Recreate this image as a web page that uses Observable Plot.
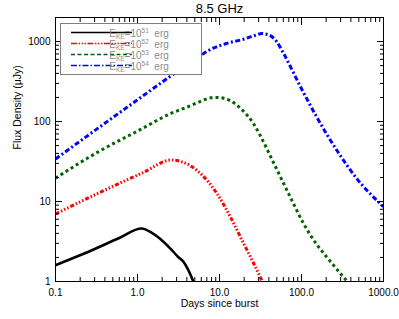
<!DOCTYPE html>
<html><head><meta charset="utf-8">
<script src="https://cdn.jsdelivr.net/npm/d3@7"></script>
<script src="https://cdn.jsdelivr.net/npm/@observablehq/plot@0.6"></script>
<style>
body{margin:0;background:#fff}
svg{font-family:"Liberation Sans",Arial,sans-serif}
</style>
</head><body><div id="chart"></div>
<script>
const title = "8.5 GHz";
const xLabel = "Days since burst";
const yLabel = "Flux Density (\u03bcJy)";
const xTickValues = [0.1, 1, 10, 100, 1000];
const xTickLabels = ["0.1", "1.0", "10.0", "100.0", "1000.0"];
const yTickValues = [1, 10, 100, 1000];
const yTickLabels = ["1", "10", "100", "1000"];

const seriesExponents = ["51", "52", "53", "54"];
const seriesColors = ["#000000", "#ff0000", "#006400", "#0000ff"];
const seriesDash = [null, "4,2,1.5,2,1.5,2,1.5,2", "3,3", "5,2.5,2,2.5"];
const legendDash = [null, "6,1.5,1.5,1.5,1.5,1.5,1.5,1.5", "4,2.5", "6,2,1.5,2"];

const e51Days = [0.1, 0.22, 0.6, 1.12, 1.5, 1.9, 2.5, 3.1, 3.67, 4.2, 4.8];
const e51Flux = [1.6, 2.22, 3.5, 4.6, 4.05, 3.4, 2.6, 2.05, 1.74, 1.37, 1.0];

const e52Days = [0.1, 0.354, 1.19, 2.58, 3.6, 5.34, 9.35, 13.6, 18.9, 25.1, 33.3];
const e52Flux = [7.0, 13.1, 23.2, 33, 31, 24.4, 12.5, 6.4, 3.25, 1.83, 1.0];

const e53Days = [0.1, 0.354, 1.0, 2.5, 4.44, 5.87, 7.8, 9.35, 13.5, 18.9, 26.2, 31.6, 46.3, 73.2, 106, 150, 205, 362];
const e53Flux = [19.6, 43.4, 76, 125, 158, 179, 198, 200, 182, 140, 93, 66, 29.6, 11.3, 5.3, 3.0, 2.0, 1.0];

const e54Days = [0.1, 0.3, 1.0, 2.78, 4.44, 7.8, 12.3, 19.6, 26, 33, 40, 50, 60.7, 98, 154, 271, 475, 1000];
const e54Flux = [34, 77, 187, 395, 545, 800, 950, 1070, 1180, 1260, 1210, 995, 705, 268, 113, 43.4, 19.2, 8.6];

const seriesDays = [e51Days, e52Days, e53Days, e54Days];
const seriesFlux = [e51Flux, e52Flux, e53Flux, e54Flux];

const series = seriesDays.map((days, s) => days.map((d, i) => ({days: d, flux: seriesFlux[s][i]})));

function minorTicks(lo, hi) {
  const out = [];
  for (let p = Math.floor(Math.log10(lo)); p <= Math.ceil(Math.log10(hi)); p++) {
    for (let m = 2; m <= 9; m++) {
      const v = m * Math.pow(10, p);
      if (v > lo * 1.0001 && v < hi * 0.9999) out.push(v);
    }
  }
  return out;
}
const xMinor = minorTicks(0.1, 1000);
const yMinor = minorTicks(1, 2000);
const xFmt = d => xTickLabels[xTickValues.indexOf(d)];
const yFmt = d => yTickLabels[yTickValues.indexOf(d)];
const blank = () => "";

const lineMarks = series.map((data, s) => Plot.line(data, {
  x: "days", y: "flux", stroke: seriesColors[s], strokeWidth: s === 0 ? 2.6 : 3,
  strokeDasharray: seriesDash[s], strokeLinecap: "butt", curve: "monotone-x", clip: true
}));

const chart = Plot.plot({
  width: 399, height: 319,
  marginLeft: 55, marginRight: 16, marginTop: 17, marginBottom: 38,
  style: {fontFamily: "'Liberation Sans', Arial, sans-serif", fontSize: "10px", color: "#000", background: "#fff"},
  x: {type: "log", domain: [0.1, 1000]},
  y: {type: "log", domain: [1, 2000]},
  marks: [
    ...lineMarks,
    Plot.frame({stroke: "#000", strokeWidth: 1}),
    Plot.axisX(xTickValues, {anchor: "bottom", tickSize: 0, tickPadding: 7, tickFormat: xFmt, label: null, fontSize: 10}),
    Plot.axisY(yTickValues, {anchor: "left", tickSize: 0, tickPadding: 5, tickFormat: yFmt, label: null, fontSize: 10}),
    Plot.axisX(xTickValues, {anchor: "bottom", tickSize: 7, dy: -7, tickFormat: blank, label: null}),
    Plot.axisX(xTickValues, {anchor: "top", tickSize: 7, dy: 7, tickFormat: blank, label: null}),
    Plot.axisY(yTickValues, {anchor: "left", tickSize: 7, dx: 7, tickFormat: blank, label: null}),
    Plot.axisY(yTickValues, {anchor: "right", tickSize: 7, dx: -7, tickFormat: blank, label: null}),
    Plot.axisX(xMinor, {anchor: "bottom", tickSize: 4, dy: -4, tickFormat: blank, label: null}),
    Plot.axisX(xMinor, {anchor: "top", tickSize: 4, dy: 4, tickFormat: blank, label: null}),
    Plot.axisY(yMinor, {anchor: "left", tickSize: 4, dx: 4, tickFormat: blank, label: null}),
    Plot.axisY(yMinor, {anchor: "right", tickSize: 4, dx: -4, tickFormat: blank, label: null}),
    Plot.text([title], {frameAnchor: "top", lineAnchor: "middle", dy: -9, fontSize: 13, fill: "#000"}),
    Plot.text([xLabel], {frameAnchor: "bottom", lineAnchor: "middle", dy: 22, fontSize: 10.5, fill: "#000"}),
    Plot.text([yLabel], {frameAnchor: "left", lineAnchor: "middle", dx: -38, rotate: -90, fontSize: 10.5, fill: "#000"})
  ]
});
document.getElementById("chart").appendChild(chart);

// legend
const svg = d3.select(chart);
const lg = svg.append("g").attr("class", "legend");
lg.append("rect").attr("x", 60.5).attr("y", 23.5).attr("width", 141).attr("height", 51)
  .style("fill", "#fff").style("stroke", "#808080").style("stroke-width", "1px");
const rowY = [32.5, 43.5, 54.5, 65.5];
seriesExponents.forEach((ex, s) => {
  lg.append("path").attr("d", `M71,${rowY[s]}H132`)
    .style("fill", "none")
    .style("stroke", seriesColors[s]).style("stroke-width", "1.3px")
    .style("stroke-dasharray", legendDash[s] || "none");
  const t = lg.append("text").attr("x", 139).attr("y", rowY[s] + 4)
    .style("fill", "#8c8c8c").attr("font-size", 10);
  t.append("tspan").text("E");
  t.append("tspan").attr("font-size", 6.5).attr("dy", 2).text("KE");
  t.append("tspan").attr("dy", -2).text("=10");
  t.append("tspan").attr("font-size", 6.5).attr("dy", -4).text(ex);
  t.append("tspan").attr("dy", 4).text("\u00a0 erg");
});
</script>
</body></html>
